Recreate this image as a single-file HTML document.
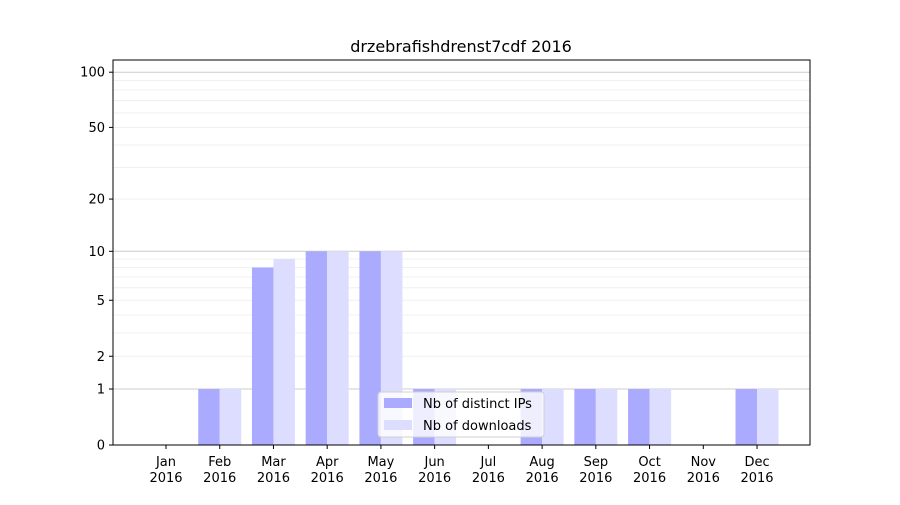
<!DOCTYPE html>
<html><head><meta charset="utf-8">
<style>
body{margin:0;background:#fff;font-family:"Liberation Sans","DejaVu Sans",sans-serif;}
svg text{font-family:"DejaVu Sans","Liberation Sans",sans-serif;}
</style></head>
<body>
<svg id="chart" width="900" height="500" viewBox="0 0 900 500" xmlns="http://www.w3.org/2000/svg">
<rect width="900" height="500" fill="#fff"/>
<text x="461" y="52" text-anchor="middle" font-size="16" fill="#000">drzebrafishdrenst7cdf 2016</text>
<g id="grid"></g>
<g id="bars"></g>
<g id="axes"></g>
</svg>
<script>
const months = ["Jan","Feb","Mar","Apr","May","Jun","Jul","Aug","Sep","Oct","Nov","Dec"];
const year = "2016";
const ipsValues = [0,1,8,10,10,1,0,1,1,1,0,1];
const downloadValues = [0,1,9,10,10,1,0,1,1,1,0,1];
const yTicks = [0,1,2,5,10,20,50,100];
const majorGrid = [1,10,100];
const minorGrid = [2,3,4,5,6,7,8,9,20,30,40,50,60,70,80,90];

const NS="http://www.w3.org/2000/svg";
const L=113,R=810,T=60,B=445;
function y(v){return B-186*Math.log10(1+v);}
function xc(i){return 166+i*53.73;}
function mk(tag,attrs,parent){const e=document.createElementNS(NS,tag);for(const k in attrs)e.setAttribute(k,attrs[k]);parent.appendChild(e);return e;}
const grid=document.getElementById('grid'),bars=document.getElementById('bars'),axes=document.getElementById('axes');

minorGrid.forEach(v=>{
  const l=mk('line',{x1:L,x2:R,y1:y(v),y2:y(v),stroke:'#ececec','stroke-width':0.8},grid);
  
  
});
majorGrid.forEach(v=>{
  const l=mk('line',{x1:L,x2:R,y1:y(v),y2:y(v),stroke:'#cccccc','stroke-width':1},grid);
  
  
});

const bw=21.5;
months.forEach((m,i)=>{
  const a=ipsValues[i], b=downloadValues[i];
  if(a>0){
    const r=mk('rect',{x:xc(i)-bw,y:y(a),width:bw,height:B-y(a),fill:'#aaaaff'},bars);
    
    
  }
  if(b>0){
    const r=mk('rect',{x:xc(i),y:y(b),width:bw,height:B-y(b),fill:'#ddddff'},bars);
    
    
  }
});

const frame=mk('rect',{x:L,y:T,width:R-L,height:B-T,fill:'none',stroke:'#000','stroke-width':1},axes);



yTicks.forEach(v=>{
  const yy=y(v);
  mk('line',{x1:L-4,x2:L,y1:yy,y2:yy,stroke:'#000'},axes);
  const t=mk('text',{x:L-8,y:yy+4.5,'text-anchor':'end','font-size':13,fill:'#000'},axes);
  t.textContent=v;
  
  
});
months.forEach((m,i)=>{
  const x=xc(i);
  mk('line',{x1:x,x2:x,y1:B,y2:B+4,stroke:'#000'},axes);
  const t=mk('text',{x:x,y:466,'text-anchor':'middle','font-size':13,fill:'#000'},axes);
  t.textContent=m;
  
  
  const t2=mk('text',{x:x,y:482,'text-anchor':'middle','font-size':13,fill:'#000'},axes);
  t2.textContent=year;
  
  
});

const lg=mk('g',{},axes);


mk('rect',{x:378,y:392,width:166,height:45,rx:3,fill:'#fff','fill-opacity':0.8,stroke:'#d0d0d0'},lg);
mk('rect',{x:384,y:398,width:28,height:10,fill:'#aaaaff'},lg);
mk('rect',{x:384,y:420,width:28,height:10,fill:'#ddddff'},lg);
const l1=mk('text',{x:423,y:408,'font-size':13},lg);l1.textContent='Nb of distinct IPs';


const l2=mk('text',{x:423,y:430,'font-size':13},lg);l2.textContent='Nb of downloads';


</script>
</body></html>
